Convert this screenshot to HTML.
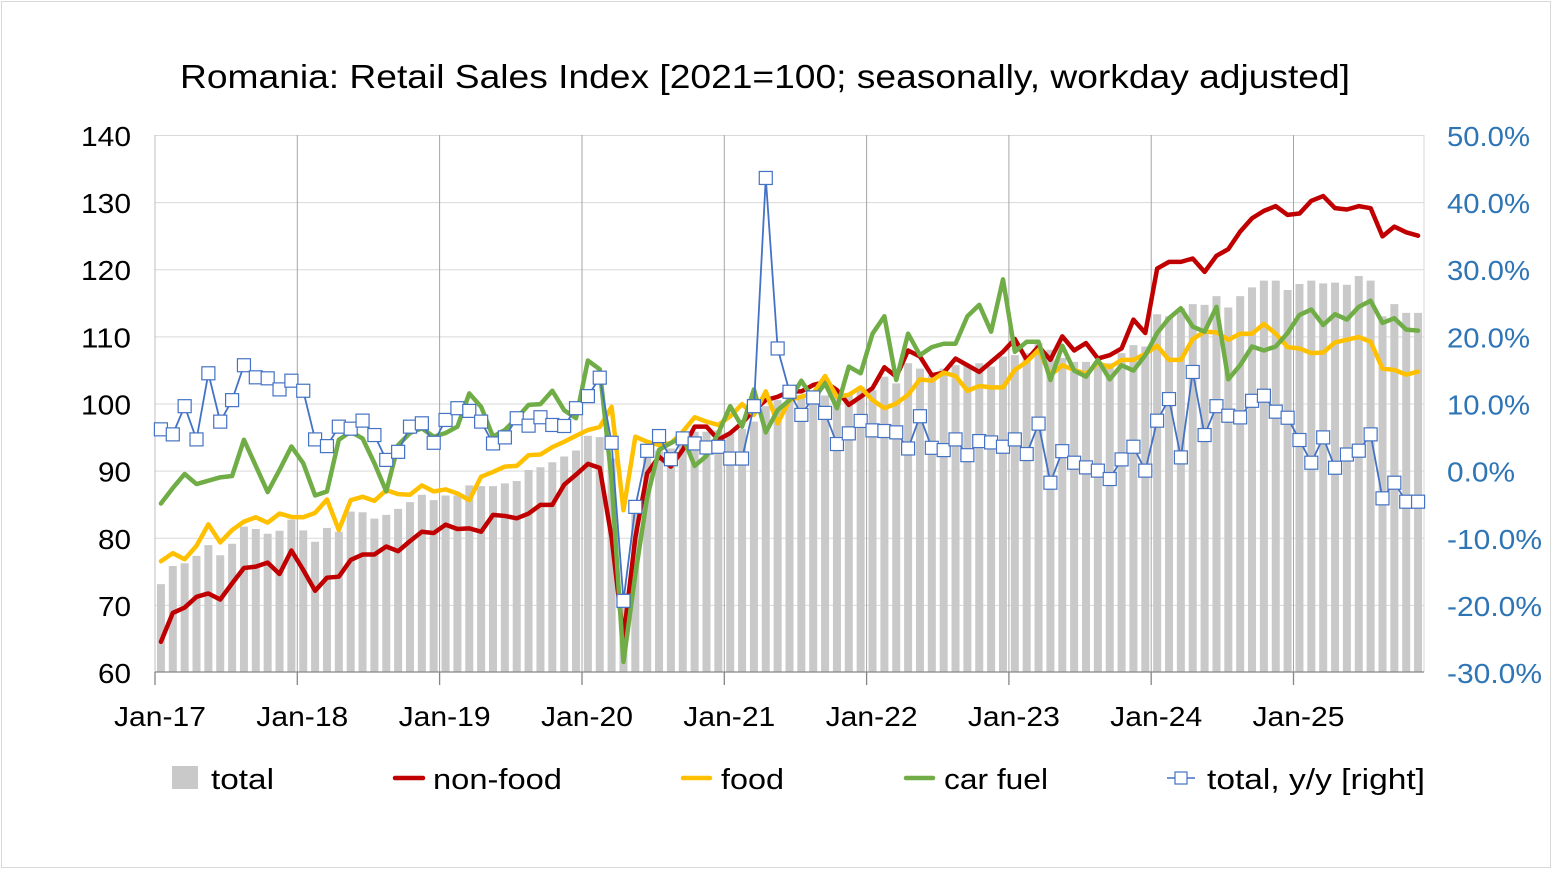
<!DOCTYPE html>
<html>
<head>
<meta charset="utf-8">
<style>
html,body{margin:0;padding:0;background:#fff}
svg{display:block}
text{font-family:"Liberation Sans",Arial,sans-serif;fill:#000}
</style>
</head>
<body>
<svg xmlns="http://www.w3.org/2000/svg" width="1555" height="872" viewBox="0 0 1555 872">
<defs>
<rect id="m" x="-6.5" y="-6.5" width="13" height="13" fill="#fff" stroke="#4472C4" stroke-width="1.2"/>
</defs>
<rect x="0" y="0" width="1555" height="872" fill="#fff"/>
<rect x="1.5" y="1.5" width="1549" height="866" fill="none" stroke="#d9d9d9" stroke-width="1"/>

<text x="180" y="88" font-size="33" textLength="1170" lengthAdjust="spacingAndGlyphs">Romania: Retail Sales Index [2021=100; seasonally, workday adjusted]</text>

<!-- horizontal gridlines -->
<g stroke="#d9d9d9" stroke-width="1">
<line x1="155" y1="135.5" x2="1424" y2="135.5"/>
<line x1="155" y1="202.6" x2="1424" y2="202.6"/>
<line x1="155" y1="269.7" x2="1424" y2="269.7"/>
<line x1="155" y1="336.9" x2="1424" y2="336.9"/>
<line x1="155" y1="404" x2="1424" y2="404"/>
<line x1="155" y1="471.1" x2="1424" y2="471.1"/>
<line x1="155" y1="538.2" x2="1424" y2="538.2"/>
<line x1="155" y1="605.4" x2="1424" y2="605.4"/>
<line x1="1424" y1="135" x2="1424" y2="672"/>
</g>
<!-- vertical year gridlines -->
<g stroke="#a6a6a6" stroke-width="1">
<line x1="297.3" y1="135" x2="297.3" y2="672"/>
<line x1="439.6" y1="135" x2="439.6" y2="672"/>
<line x1="582" y1="135" x2="582" y2="672"/>
<line x1="724.3" y1="135" x2="724.3" y2="672"/>
<line x1="866.6" y1="135" x2="866.6" y2="672"/>
<line x1="1008.9" y1="135" x2="1008.9" y2="672"/>
<line x1="1151.2" y1="135" x2="1151.2" y2="672"/>
<line x1="1293.5" y1="135" x2="1293.5" y2="672"/>
</g>
<line x1="155" y1="135" x2="155" y2="672" stroke="#bfbfbf" stroke-width="1"/>

<!-- data (left axis) -->
<g transform="translate(160.93,1074.75) scale(11.8598,-6.7125)" fill="none">
<path vector-effect="non-scaling-stroke" stroke="#c9c9c9" stroke-width="8" stroke-linecap="butt" d="M0,60V73.1M1,60V75.8M2,60V76.2M3,60V77.3M4,60V78.9M5,60V77.4M6,60V79.1M7,60V81.65M8,60V81.3M9,60V80.6M10,60V81.05M11,60V82.7M12,60V81.1M13,60V79.4M14,60V81.45M15,60V80.9M16,60V83.9M17,60V83.8M18,60V82.85M19,60V83.4M20,60V84.3M21,60V85.3M22,60V86.4M23,60V85.6M24,60V86.3M25,60V86.3M26,60V87.8M27,60V87.7M28,60V87.7M29,60V88.1M30,60V88.45M31,60V90.1M32,60V90.5M33,60V91.25M34,60V92.1M35,60V93M36,60V95.2M37,60V95M38,60V91.8M39,60V71.8M40,60V83.7M41,60V92.3M42,60V93M43,60V93.3M44,60V94.8M45,60V95.8M46,60V95.8M47,60V96M48,60V95.5M49,60V96.2M50,60V97.3M51,60V99.6M52,60V100.5M53,60V101M54,60V101.3M55,60V101.5M56,60V101.2M57,60V101M58,60V101.5M59,60V102.5M60,60V102M61,60V104M62,60V103M63,60V106M64,60V105.2M65,60V104.2M66,60V105.2M67,60V105.7M68,60V105.7M69,60V106M70,60V105.5M71,60V107M72,60V107.2M73,60V107.5M74,60V109M75,60V108M76,60V106.8M77,60V106.2M78,60V106.2M79,60V106.2M80,60V106M81,60V107.5M82,60V108.7M83,60V108.5M84,60V113.3M85,60V113M86,60V114.2M87,60V114.8M88,60V114.7M89,60V116M90,60V114.3M91,60V116M92,60V117.3M93,60V118.3M94,60V118.3M95,60V116.9M96,60V117.8M97,60V118.3M98,60V117.9M99,60V118M100,60V117.7M101,60V119M102,60V118.3M103,60V113M104,60V114.8M105,60V113.5M106,60V113.5"/>
<polyline vector-effect="non-scaling-stroke" stroke="#C00000" stroke-width="4.5" stroke-linejoin="round" stroke-linecap="round" points="0,64.5 1,68.8 2,69.6 3,71.2 4,71.7 5,70.8 6,73.2 7,75.5 8,75.7 9,76.3 10,74.6 11,78.1 12,75.2 13,72.1 14,74.05 15,74.2 16,76.7 17,77.5 18,77.5 19,78.7 20,78 21,79.5 22,80.9 23,80.7 24,81.95 25,81.3 26,81.4 27,80.9 28,83.4 29,83.25 30,82.9 31,83.6 32,84.9 33,84.9 34,87.9 35,89.4 36,91 37,90.4 38,80 39,65 40,80 41,89.6 42,92.1 43,90.6 44,93.1 45,96.55 46,96.55 47,94.6 48,95.6 49,97.1 50,99 51,100.5 52,101 53,101.8 54,101.8 55,102.76 56,103.2 57,102 58,99.8 59,101 60,102.3 61,105.4 62,104 63,107.9 64,107 65,104.2 66,104.6 67,106.7 68,105.7 69,104.7 70,106.2 71,107.7 72,109.6 73,106.5 74,108.5 75,106.5 76,110 77,107.9 78,109 79,106.7 80,107.2 81,108.2 82,112.5 83,110.5 84,120.1 85,121.1 86,121.1 87,121.6 88,119.6 89,122 90,123 91,125.6 92,127.6 93,128.7 94,129.4 95,128.1 96,128.3 97,130.2 98,130.9 99,129.1 100,128.9 101,129.4 102,129.1 103,124.9 104,126.35 105,125.5 106,125"/>
<polyline vector-effect="non-scaling-stroke" stroke="#FFC000" stroke-width="4.5" stroke-linejoin="round" stroke-linecap="round" points="0,76.5 1,77.7 2,76.8 3,78.8 4,82 5,79.3 6,81.15 7,82.4 8,83.05 9,82.25 10,83.6 11,83.1 12,83.05 13,83.7 14,85.7 15,81.15 16,85.6 17,86.1 18,85.5 19,87.1 20,86.5 21,86.4 22,87.8 23,86.9 24,87.2 25,86.6 26,85.6 27,89.1 28,89.8 29,90.6 30,90.7 31,92.3 32,92.4 33,93.5 34,94.3 35,95.2 36,96.05 37,96.5 38,99.5 39,84.1 40,95.05 41,94.3 42,93.8 43,94.1 44,95.8 45,97.95 46,97.3 47,96.8 48,98.1 49,99.9 50,98.3 51,101.8 52,97.05 53,100.5 54,101 55,101.5 56,104.1 57,101 58,101.3 59,102.4 60,100.5 61,99.3 62,100 63,101.3 64,103.6 65,103.4 66,104.6 67,104.1 68,101.9 69,102.6 70,102.4 71,102.4 72,105 73,106.2 74,108 75,104.2 76,105.7 77,105 78,104.4 79,106 80,105.4 81,106.5 82,106.5 83,107.4 84,108.6 85,106.5 86,106.5 87,109.6 88,110.7 89,110.6 90,109.5 91,110.4 92,110.4 93,111.85 94,110.4 95,108.4 96,108.2 97,107.5 98,107.6 99,109.1 100,109.5 101,109.9 102,109.2 103,105.2 104,105 105,104.3 106,104.75"/>
<polyline vector-effect="non-scaling-stroke" stroke="#70AD47" stroke-width="4.5" stroke-linejoin="round" stroke-linecap="round" points="0,85.1 1,87.4 2,89.5 3,88 4,88.5 5,89 6,89.2 7,94.6 8,90.7 9,86.8 10,90.1 11,93.6 12,91.1 13,86.3 14,86.9 15,94.6 16,95.8 17,94.8 18,91.1 19,86.9 20,93.8 21,95.6 22,96.3 23,95.05 24,95.6 25,96.55 26,101.5 27,99.5 28,95.05 29,96.05 30,97.8 31,99.8 32,99.9 33,101.9 34,99 35,97.8 36,106.4 37,105.1 38,88.6 39,61.5 40,74.5 41,86 42,93.1 43,94.1 44,95.05 45,90.7 46,92.2 47,95.6 48,99.6 49,96.55 50,102.1 51,95.7 52,99 53,100.5 54,103.4 55,100.6 56,103 57,99.3 58,105.5 59,104.5 60,110.4 61,113 62,103.5 63,110.4 64,107.2 65,108.4 66,108.9 67,108.9 68,113 69,114.7 70,110.7 71,118.5 72,107.7 73,109.2 74,109.2 75,103.5 76,108.6 77,104.9 78,104 79,106.5 80,103.6 81,105.7 82,104.9 83,107.2 84,110.5 85,112.7 86,114.2 87,111.45 88,110.7 89,114.4 90,103.6 91,105.7 92,108.5 93,107.9 94,108.5 95,110.5 96,113.2 97,114 98,111.7 99,113.3 100,112.5 101,114.4 102,115.3 103,112 104,112.7 105,111 106,110.85"/>
</g>

<!-- data (right axis, y/y %) -->
<g transform="translate(160.93,470.625) scale(11.8598,-6.7125)">
<polyline vector-effect="non-scaling-stroke" fill="none" stroke="#4472C4" stroke-width="1.8" stroke-linejoin="round" points="0,6.15 1,5.4 2,9.6 3,4.65 4,14.5 5,7.3 6,10.5 7,15.7 8,13.9 9,13.75 10,12.1 11,13.4 12,11.9 13,4.65 14,3.65 15,6.55 16,6.25 17,7.45 18,5.3 19,1.6 20,2.8 21,6.55 22,7.05 23,4.15 24,7.55 25,9.3 26,8.9 27,7.3 28,4.05 29,4.95 30,7.8 31,6.7 32,7.95 33,6.8 34,6.65 35,9.3 36,11.1 37,13.85 38,4.15 39,-19.4 40,-5.4 41,2.95 42,5.15 43,1.7 44,4.8 45,4.05 46,3.45 47,3.55 48,1.8 49,1.8 50,9.6 51,43.6 52,18.2 53,11.75 54,8.3 55,10.9 56,8.6 57,3.96 58,5.55 59,7.4 60,6 61,5.9 62,5.7 63,3.3 64,8.1 65,3.4 66,3.06 67,4.65 68,2.3 69,4.4 70,4.2 71,3.56 72,4.65 73,2.47 74,7 75,-1.8 76,2.9 77,1.18 78,0.48 79,0 80,-1.25 81,1.67 82,3.56 83,0 84,7.44 85,10.66 86,1.97 87,14.7 88,5.3 89,9.6 90,8.18 91,7.93 92,10.4 93,11.16 94,8.78 95,7.88 96,4.56 97,1.18 98,4.95 99,0.43 100,2.4 101,2.97 102,5.4 103,-4.13 104,-1.8 105,-4.63 106,-4.63"/>
<use href="#m" transform="translate(0,6.15) scale(.084318,-.148976)"/>
<use href="#m" transform="translate(1,5.4) scale(.084318,-.148976)"/>
<use href="#m" transform="translate(2,9.6) scale(.084318,-.148976)"/>
<use href="#m" transform="translate(3,4.65) scale(.084318,-.148976)"/>
<use href="#m" transform="translate(4,14.5) scale(.084318,-.148976)"/>
<use href="#m" transform="translate(5,7.3) scale(.084318,-.148976)"/>
<use href="#m" transform="translate(6,10.5) scale(.084318,-.148976)"/>
<use href="#m" transform="translate(7,15.7) scale(.084318,-.148976)"/>
<use href="#m" transform="translate(8,13.9) scale(.084318,-.148976)"/>
<use href="#m" transform="translate(9,13.75) scale(.084318,-.148976)"/>
<use href="#m" transform="translate(10,12.1) scale(.084318,-.148976)"/>
<use href="#m" transform="translate(11,13.4) scale(.084318,-.148976)"/>
<use href="#m" transform="translate(12,11.9) scale(.084318,-.148976)"/>
<use href="#m" transform="translate(13,4.65) scale(.084318,-.148976)"/>
<use href="#m" transform="translate(14,3.65) scale(.084318,-.148976)"/>
<use href="#m" transform="translate(15,6.55) scale(.084318,-.148976)"/>
<use href="#m" transform="translate(16,6.25) scale(.084318,-.148976)"/>
<use href="#m" transform="translate(17,7.45) scale(.084318,-.148976)"/>
<use href="#m" transform="translate(18,5.3) scale(.084318,-.148976)"/>
<use href="#m" transform="translate(19,1.6) scale(.084318,-.148976)"/>
<use href="#m" transform="translate(20,2.8) scale(.084318,-.148976)"/>
<use href="#m" transform="translate(21,6.55) scale(.084318,-.148976)"/>
<use href="#m" transform="translate(22,7.05) scale(.084318,-.148976)"/>
<use href="#m" transform="translate(23,4.15) scale(.084318,-.148976)"/>
<use href="#m" transform="translate(24,7.55) scale(.084318,-.148976)"/>
<use href="#m" transform="translate(25,9.3) scale(.084318,-.148976)"/>
<use href="#m" transform="translate(26,8.9) scale(.084318,-.148976)"/>
<use href="#m" transform="translate(27,7.3) scale(.084318,-.148976)"/>
<use href="#m" transform="translate(28,4.05) scale(.084318,-.148976)"/>
<use href="#m" transform="translate(29,4.95) scale(.084318,-.148976)"/>
<use href="#m" transform="translate(30,7.8) scale(.084318,-.148976)"/>
<use href="#m" transform="translate(31,6.7) scale(.084318,-.148976)"/>
<use href="#m" transform="translate(32,7.95) scale(.084318,-.148976)"/>
<use href="#m" transform="translate(33,6.8) scale(.084318,-.148976)"/>
<use href="#m" transform="translate(34,6.65) scale(.084318,-.148976)"/>
<use href="#m" transform="translate(35,9.3) scale(.084318,-.148976)"/>
<use href="#m" transform="translate(36,11.1) scale(.084318,-.148976)"/>
<use href="#m" transform="translate(37,13.85) scale(.084318,-.148976)"/>
<use href="#m" transform="translate(38,4.15) scale(.084318,-.148976)"/>
<use href="#m" transform="translate(39,-19.4) scale(.084318,-.148976)"/>
<use href="#m" transform="translate(40,-5.4) scale(.084318,-.148976)"/>
<use href="#m" transform="translate(41,2.95) scale(.084318,-.148976)"/>
<use href="#m" transform="translate(42,5.15) scale(.084318,-.148976)"/>
<use href="#m" transform="translate(43,1.7) scale(.084318,-.148976)"/>
<use href="#m" transform="translate(44,4.8) scale(.084318,-.148976)"/>
<use href="#m" transform="translate(45,4.05) scale(.084318,-.148976)"/>
<use href="#m" transform="translate(46,3.45) scale(.084318,-.148976)"/>
<use href="#m" transform="translate(47,3.55) scale(.084318,-.148976)"/>
<use href="#m" transform="translate(48,1.8) scale(.084318,-.148976)"/>
<use href="#m" transform="translate(49,1.8) scale(.084318,-.148976)"/>
<use href="#m" transform="translate(50,9.6) scale(.084318,-.148976)"/>
<use href="#m" transform="translate(51,43.6) scale(.084318,-.148976)"/>
<use href="#m" transform="translate(52,18.2) scale(.084318,-.148976)"/>
<use href="#m" transform="translate(53,11.75) scale(.084318,-.148976)"/>
<use href="#m" transform="translate(54,8.3) scale(.084318,-.148976)"/>
<use href="#m" transform="translate(55,10.9) scale(.084318,-.148976)"/>
<use href="#m" transform="translate(56,8.6) scale(.084318,-.148976)"/>
<use href="#m" transform="translate(57,3.96) scale(.084318,-.148976)"/>
<use href="#m" transform="translate(58,5.55) scale(.084318,-.148976)"/>
<use href="#m" transform="translate(59,7.4) scale(.084318,-.148976)"/>
<use href="#m" transform="translate(60,6) scale(.084318,-.148976)"/>
<use href="#m" transform="translate(61,5.9) scale(.084318,-.148976)"/>
<use href="#m" transform="translate(62,5.7) scale(.084318,-.148976)"/>
<use href="#m" transform="translate(63,3.3) scale(.084318,-.148976)"/>
<use href="#m" transform="translate(64,8.1) scale(.084318,-.148976)"/>
<use href="#m" transform="translate(65,3.4) scale(.084318,-.148976)"/>
<use href="#m" transform="translate(66,3.06) scale(.084318,-.148976)"/>
<use href="#m" transform="translate(67,4.65) scale(.084318,-.148976)"/>
<use href="#m" transform="translate(68,2.3) scale(.084318,-.148976)"/>
<use href="#m" transform="translate(69,4.4) scale(.084318,-.148976)"/>
<use href="#m" transform="translate(70,4.2) scale(.084318,-.148976)"/>
<use href="#m" transform="translate(71,3.56) scale(.084318,-.148976)"/>
<use href="#m" transform="translate(72,4.65) scale(.084318,-.148976)"/>
<use href="#m" transform="translate(73,2.47) scale(.084318,-.148976)"/>
<use href="#m" transform="translate(74,7) scale(.084318,-.148976)"/>
<use href="#m" transform="translate(75,-1.8) scale(.084318,-.148976)"/>
<use href="#m" transform="translate(76,2.9) scale(.084318,-.148976)"/>
<use href="#m" transform="translate(77,1.18) scale(.084318,-.148976)"/>
<use href="#m" transform="translate(78,0.48) scale(.084318,-.148976)"/>
<use href="#m" transform="translate(79,0) scale(.084318,-.148976)"/>
<use href="#m" transform="translate(80,-1.25) scale(.084318,-.148976)"/>
<use href="#m" transform="translate(81,1.67) scale(.084318,-.148976)"/>
<use href="#m" transform="translate(82,3.56) scale(.084318,-.148976)"/>
<use href="#m" transform="translate(83,0) scale(.084318,-.148976)"/>
<use href="#m" transform="translate(84,7.44) scale(.084318,-.148976)"/>
<use href="#m" transform="translate(85,10.66) scale(.084318,-.148976)"/>
<use href="#m" transform="translate(86,1.97) scale(.084318,-.148976)"/>
<use href="#m" transform="translate(87,14.7) scale(.084318,-.148976)"/>
<use href="#m" transform="translate(88,5.3) scale(.084318,-.148976)"/>
<use href="#m" transform="translate(89,9.6) scale(.084318,-.148976)"/>
<use href="#m" transform="translate(90,8.18) scale(.084318,-.148976)"/>
<use href="#m" transform="translate(91,7.93) scale(.084318,-.148976)"/>
<use href="#m" transform="translate(92,10.4) scale(.084318,-.148976)"/>
<use href="#m" transform="translate(93,11.16) scale(.084318,-.148976)"/>
<use href="#m" transform="translate(94,8.78) scale(.084318,-.148976)"/>
<use href="#m" transform="translate(95,7.88) scale(.084318,-.148976)"/>
<use href="#m" transform="translate(96,4.56) scale(.084318,-.148976)"/>
<use href="#m" transform="translate(97,1.18) scale(.084318,-.148976)"/>
<use href="#m" transform="translate(98,4.95) scale(.084318,-.148976)"/>
<use href="#m" transform="translate(99,0.43) scale(.084318,-.148976)"/>
<use href="#m" transform="translate(100,2.4) scale(.084318,-.148976)"/>
<use href="#m" transform="translate(101,2.97) scale(.084318,-.148976)"/>
<use href="#m" transform="translate(102,5.4) scale(.084318,-.148976)"/>
<use href="#m" transform="translate(103,-4.13) scale(.084318,-.148976)"/>
<use href="#m" transform="translate(104,-1.8) scale(.084318,-.148976)"/>
<use href="#m" transform="translate(105,-4.63) scale(.084318,-.148976)"/>
<use href="#m" transform="translate(106,-4.63) scale(.084318,-.148976)"/>
</g>

<!-- x axis -->
<g stroke="#868686" stroke-width="1.3">
<line x1="155" y1="672" x2="1424" y2="672"/>
<line x1="155" y1="672" x2="155" y2="685"/>
<line x1="297.3" y1="672" x2="297.3" y2="685"/>
<line x1="439.6" y1="672" x2="439.6" y2="685"/>
<line x1="582" y1="672" x2="582" y2="685"/>
<line x1="724.3" y1="672" x2="724.3" y2="685"/>
<line x1="866.6" y1="672" x2="866.6" y2="685"/>
<line x1="1008.9" y1="672" x2="1008.9" y2="685"/>
<line x1="1151.2" y1="672" x2="1151.2" y2="685"/>
<line x1="1293.5" y1="672" x2="1293.5" y2="685"/>
</g>

<!-- left axis labels -->
<g font-size="28" text-anchor="end">
<text x="131" y="146" textLength="50" lengthAdjust="spacingAndGlyphs">140</text>
<text x="131" y="213" textLength="50" lengthAdjust="spacingAndGlyphs">130</text>
<text x="131" y="280" textLength="50" lengthAdjust="spacingAndGlyphs">120</text>
<text x="131" y="347.5" textLength="50" lengthAdjust="spacingAndGlyphs">110</text>
<text x="131" y="414.5" textLength="50" lengthAdjust="spacingAndGlyphs">100</text>
<text x="131" y="481.6" textLength="33" lengthAdjust="spacingAndGlyphs">90</text>
<text x="131" y="548.8" textLength="33" lengthAdjust="spacingAndGlyphs">80</text>
<text x="131" y="615.9" textLength="33" lengthAdjust="spacingAndGlyphs">70</text>
<text x="131" y="683" textLength="33" lengthAdjust="spacingAndGlyphs">60</text>
</g>

<!-- right axis labels -->
<g font-size="28" style="fill:#2E75B6">
<text x="1447" y="146" textLength="83" lengthAdjust="spacingAndGlyphs" style="fill:#2E75B6">50.0%</text>
<text x="1447" y="213" textLength="83" lengthAdjust="spacingAndGlyphs" style="fill:#2E75B6">40.0%</text>
<text x="1447" y="280" textLength="83" lengthAdjust="spacingAndGlyphs" style="fill:#2E75B6">30.0%</text>
<text x="1447" y="347.5" textLength="83" lengthAdjust="spacingAndGlyphs" style="fill:#2E75B6">20.0%</text>
<text x="1447" y="414.5" textLength="83" lengthAdjust="spacingAndGlyphs" style="fill:#2E75B6">10.0%</text>
<text x="1447" y="481.6" textLength="68" lengthAdjust="spacingAndGlyphs" style="fill:#2E75B6">0.0%</text>
<text x="1447" y="548.8" textLength="95" lengthAdjust="spacingAndGlyphs" style="fill:#2E75B6">-10.0%</text>
<text x="1447" y="615.9" textLength="95" lengthAdjust="spacingAndGlyphs" style="fill:#2E75B6">-20.0%</text>
<text x="1447" y="683" textLength="95" lengthAdjust="spacingAndGlyphs" style="fill:#2E75B6">-30.0%</text>
</g>

<!-- x axis labels -->
<g font-size="28" text-anchor="middle">
<text x="160" y="726" textLength="92" lengthAdjust="spacingAndGlyphs">Jan-17</text>
<text x="302.3" y="726" textLength="92" lengthAdjust="spacingAndGlyphs">Jan-18</text>
<text x="444.6" y="726" textLength="92" lengthAdjust="spacingAndGlyphs">Jan-19</text>
<text x="587" y="726" textLength="92" lengthAdjust="spacingAndGlyphs">Jan-20</text>
<text x="729.3" y="726" textLength="92" lengthAdjust="spacingAndGlyphs">Jan-21</text>
<text x="871.6" y="726" textLength="92" lengthAdjust="spacingAndGlyphs">Jan-22</text>
<text x="1013.9" y="726" textLength="92" lengthAdjust="spacingAndGlyphs">Jan-23</text>
<text x="1156.2" y="726" textLength="92" lengthAdjust="spacingAndGlyphs">Jan-24</text>
<text x="1298.5" y="726" textLength="92" lengthAdjust="spacingAndGlyphs">Jan-25</text>
</g>

<!-- legend -->
<rect x="172" y="766" width="26" height="23" fill="#c9c9c9"/>
<text x="211" y="789" font-size="29" textLength="63" lengthAdjust="spacingAndGlyphs">total</text>
<line x1="395" y1="778" x2="423" y2="778" stroke="#C00000" stroke-width="4.5" stroke-linecap="round"/>
<text x="433" y="789" font-size="29" textLength="129" lengthAdjust="spacingAndGlyphs">non-food</text>
<line x1="683" y1="778" x2="710" y2="778" stroke="#FFC000" stroke-width="4.5" stroke-linecap="round"/>
<text x="721" y="789" font-size="29" textLength="63" lengthAdjust="spacingAndGlyphs">food</text>
<line x1="906" y1="778" x2="933" y2="778" stroke="#70AD47" stroke-width="4.5" stroke-linecap="round"/>
<text x="944" y="789" font-size="29" textLength="104" lengthAdjust="spacingAndGlyphs">car fuel</text>
<line x1="1167" y1="778" x2="1195" y2="778" stroke="#4472C4" stroke-width="1.5"/>
<rect x="1175" y="772" width="12" height="12" fill="#fff" stroke="#4472C4" stroke-width="1.2"/>
<text x="1207" y="789" font-size="29" textLength="218" lengthAdjust="spacingAndGlyphs">total, y/y [right]</text>
</svg>
</body>
</html>
